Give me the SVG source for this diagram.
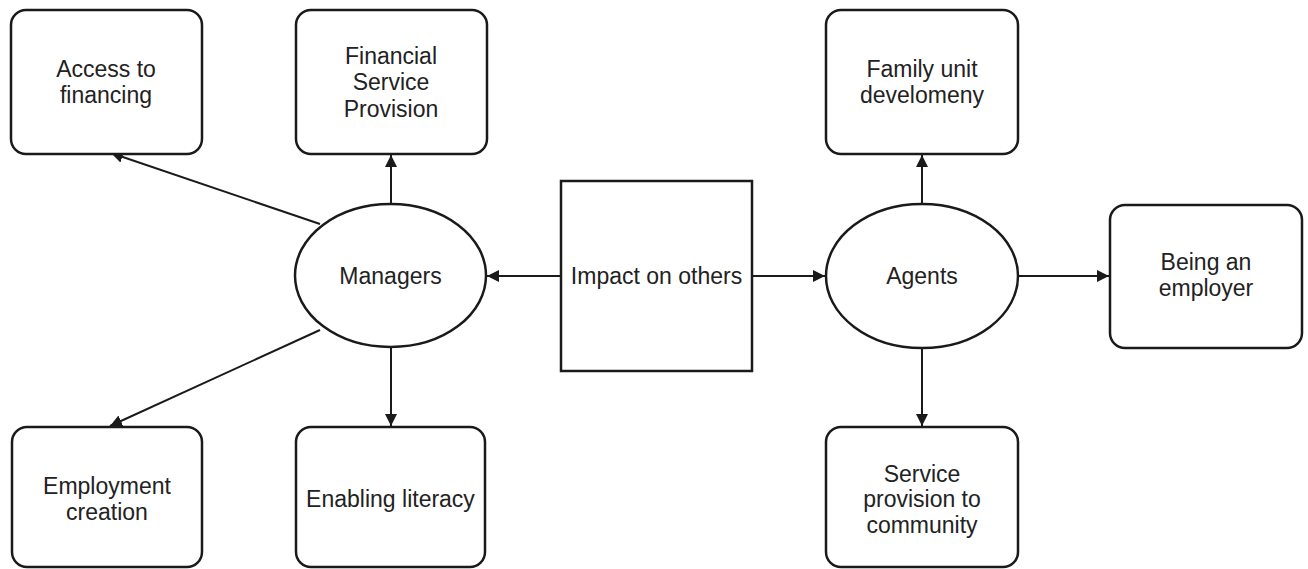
<svg xmlns="http://www.w3.org/2000/svg" width="1308" height="569" viewBox="0 0 1308 569">
  <style>
    .box { fill: #ffffff; stroke: #1a1a1a; stroke-width: 2.5; }
    .edge { fill: none; stroke: #1a1a1a; stroke-width: 2; }
    .label { font-family: "Liberation Sans", Arial, sans-serif; font-size: 23px; fill: #222222; text-anchor: middle; }
  </style>
  <defs>
    <marker id="arrow" markerUnits="userSpaceOnUse" markerWidth="13" markerHeight="12" refX="12" refY="6" orient="auto">
      <path d="M0,0 L12,6 L0,12 z" fill="#1a1a1a"/>
    </marker>
  </defs>
  <rect width="1308" height="569" fill="#ffffff"/>

  <!-- connectors -->
  <g id="connectors">
    <line class="edge" x1="320" y1="224" x2="111" y2="153" marker-end="url(#arrow)"/>
    <line class="edge" x1="391" y1="204" x2="391" y2="155" marker-end="url(#arrow)"/>
    <line class="edge" x1="320" y1="330" x2="110" y2="426" marker-end="url(#arrow)"/>
    <line class="edge" x1="391" y1="347" x2="391" y2="426" marker-end="url(#arrow)"/>
    <line class="edge" x1="561" y1="276" x2="487" y2="276" marker-end="url(#arrow)"/>
    <line class="edge" x1="752" y1="276" x2="825" y2="276" marker-end="url(#arrow)"/>
    <line class="edge" x1="922" y1="204" x2="922" y2="155" marker-end="url(#arrow)"/>
    <line class="edge" x1="922" y1="348" x2="922" y2="426" marker-end="url(#arrow)"/>
    <line class="edge" x1="1018" y1="276" x2="1109" y2="276" marker-end="url(#arrow)"/>
  </g>

  <g id="access-to-financing">
    <rect class="box" x="11" y="10" width="191" height="144" rx="15"/>
    <text class="label" x="106" y="77">Access to</text>
    <text class="label" x="106" y="103">financing</text>
  </g>

  <g id="financial-service-provision">
    <rect class="box" x="296" y="10" width="191" height="144" rx="15"/>
    <text class="label" x="391" y="64">Financial</text>
    <text class="label" x="391" y="90">Service</text>
    <text class="label" x="391" y="117">Provision</text>
  </g>

  <g id="managers">
    <ellipse class="box" cx="390.5" cy="275.5" rx="95.5" ry="71.5"/>
    <text class="label" x="390.5" y="284">Managers</text>
  </g>

  <g id="impact-on-others">
    <rect class="box" x="561" y="181" width="191" height="190"/>
    <text class="label" x="656.5" y="284">Impact on others</text>
  </g>

  <g id="agents">
    <ellipse class="box" cx="922" cy="276" rx="96" ry="72"/>
    <text class="label" x="922" y="284">Agents</text>
  </g>

  <g id="family-unit">
    <rect class="box" x="826" y="10" width="192" height="144" rx="15"/>
    <text class="label" x="922" y="77">Family unit</text>
    <text class="label" x="922" y="103">develomeny</text>
  </g>

  <g id="being-an-employer">
    <rect class="box" x="1110" y="205" width="192" height="143" rx="15"/>
    <text class="label" x="1206" y="270">Being an</text>
    <text class="label" x="1206" y="296">employer</text>
  </g>

  <g id="employment-creation">
    <rect class="box" x="12" y="427" width="190" height="140" rx="15"/>
    <text class="label" x="107" y="494">Employment</text>
    <text class="label" x="107" y="520">creation</text>
  </g>

  <g id="enabling-literacy">
    <rect class="box" x="296" y="427" width="189" height="140" rx="15"/>
    <text class="label" x="390.5" y="507">Enabling literacy</text>
  </g>

  <g id="service-provision">
    <rect class="box" x="826" y="427" width="192" height="140" rx="15"/>
    <text class="label" x="922" y="482">Service</text>
    <text class="label" x="922" y="507">provision to</text>
    <text class="label" x="922" y="533">community</text>
  </g>
</svg>
